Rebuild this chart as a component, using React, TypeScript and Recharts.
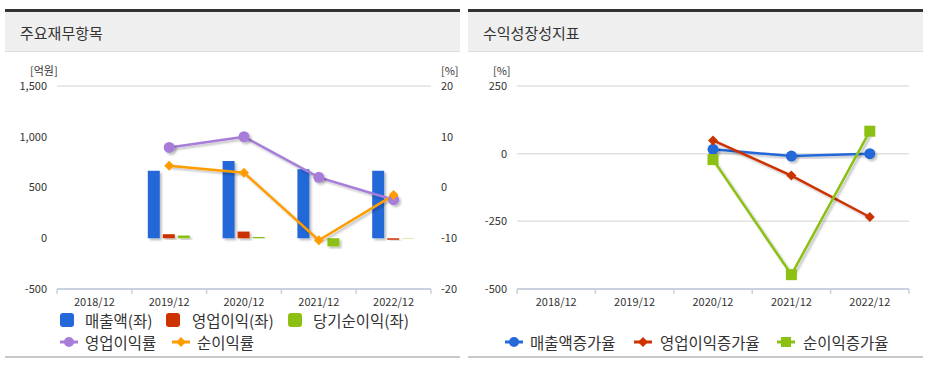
import React from "react";
import {
  ComposedChart,
  LineChart,
  Bar,
  Line,
  XAxis,
  YAxis,
  CartesianGrid,
} from "recharts";

const periods = ["2018/12", "2019/12", "2020/12", "2021/12", "2022/12"];

// 주요재무항목 (억원 / %)
const sales = [null, 666, 762, 680, 666];
const operatingProfit = [null, 40, 66, -2, -15];
const netIncome = [null, 27, 13, -80, -3];
const operatingMargin = [null, 7.9, 10.0, 2.0, -2.4];
const netMargin = [null, 4.3, 2.9, -10.4, -1.5];

// 수익성장성지표 (%)
const salesGrowth = [null, null, 16, -9, 0];
const opGrowth = [null, null, 49, -81, -234];
const netGrowth = [null, null, -22, -447, 83];

const leftTicks = [-500, 0, 500, 1000, 1500];
const rightTicks = [-20, -10, 0, 10, 20];
const growthTicks = [-500, -250, 0, 250];

const FONT = "'Noto Sans CJK KR', 'Noto Sans', sans-serif";
const TEXT = "#333";
const AXIS = "#c9d3e0";
const GRID = "#e2e2e2";

const C_BLUE = "#2468d9";
const C_RED = "#cc3300";
const C_GREEN = "#8cc012";
const C_PURPLE = "#a77dd9";
const C_ORANGE = "#ff9d00";

const finData = periods.map((p, i) => ({
  period: p,
  sales: sales[i],
  op: operatingProfit[i],
  net: netIncome[i],
  opm: operatingMargin[i],
  npm: netMargin[i],
}));

const growthData = periods.map((p, i) => ({
  period: p,
  sg: salesGrowth[i],
  og: opGrowth[i],
  ng: netGrowth[i],
}));

const fmt = (v: number) => v.toLocaleString("en-US");

const CategoryTick = (props: any) => {
  const { x, y, payload, index, visibleTicksCount } = props;
  const off = payload.offset || 0;
  const last = index === visibleTicksCount - 1;
  return (
    <g>
      <line x1={x - off} x2={x - off} y1={y - 8} y2={y - 3} stroke={AXIS} strokeWidth={1.5} />
      {last && <line x1={x + off} x2={x + off} y1={y - 8} y2={y - 3} stroke={AXIS} strokeWidth={1.5} />}
      <text x={x} y={y + 9} textAnchor="middle" fill={TEXT} fontSize={11} fontFamily={FONT}>
        {payload.value}
      </text>
    </g>
  );
};

const Diamond = (color: string, r: number) => (props: any) => {
  const { cx, cy, value, index } = props;
  if (value == null || cx == null || cy == null) return <g key={index} />;
  return (
    <polygon
      key={index}
      points={`${cx},${cy - r} ${cx + r},${cy} ${cx},${cy + r} ${cx - r},${cy}`}
      fill={color}
    />
  );
};

const Square = (color: string, s: number) => (props: any) => {
  const { cx, cy, value, index } = props;
  if (value == null || cx == null || cy == null) return <g key={index} />;
  return <rect key={index} x={cx - s / 2} y={cy - s / 2} width={s} height={s} fill={color} />;
};

const Shadow = () => (
  <defs>
    <filter id="shd" x="-30%" y="-30%" width="160%" height="160%">
      <feDropShadow dx="2" dy="2" stdDeviation="1" floodColor="#000" floodOpacity="0.25" />
    </filter>
  </defs>
);

const Panel = ({ left, title }: { left: number; title: string }) => (
  <>
    <div
      style={{
        position: "absolute",
        left,
        top: 9,
        width: 455,
        height: 39,
        borderTop: "3px solid #333",
        borderBottom: "1px solid #dcdcdc",
        background: "#efefef",
      }}
    >
      <div style={{ position: "absolute", left: 15, top: 10, fontSize: 15, color: TEXT, fontFamily: FONT }}>
        {title}
      </div>
    </div>
    <div style={{ position: "absolute", left, top: 356, width: 455, height: 2, background: "#c8c8c8" }} />
  </>
);

const label = (x: number, y: number, text: string) => (
  <div
    style={{
      position: "absolute",
      top: y,
      left: x,
      fontSize: 11,
      color: TEXT,
      fontFamily: FONT,
      lineHeight: "12px",
    }}
  >
    {text}
  </div>
);

const SquareIcon = ({ color }: { color: string }) => (
  <span
    style={{
      position: "absolute",
      left: 0,
      top: 3,
      width: 14,
      height: 14,
      borderRadius: 3,
      background: color,
    }}
  />
);

const LineIcon = ({ color, shape }: { color: string; shape: "circle" | "diamond" | "square" }) => (
  <svg width={18} height={12} style={{ position: "absolute", left: 0, top: 4 }}>
    <line x1={0} x2={18} y1={6} y2={6} stroke={color} strokeWidth={3} />
    {shape === "circle" && <circle cx={9} cy={6} r={5} fill={color} />}
    {shape === "diamond" && <polygon points="9,1 14,6 9,11 4,6" fill={color} />}
    {shape === "square" && <rect x={4} y={1} width={10} height={10} fill={color} />}
  </svg>
);

const LegendItem = ({
  x,
  cy,
  textX,
  text,
  icon,
}: {
  x: number;
  cy: number;
  textX: number;
  text: string;
  icon: React.ReactNode;
}) => (
  <div style={{ position: "absolute", left: x, top: cy - 10, height: 20, whiteSpace: "nowrap" }}>
    {icon}
    <span
      style={{
        position: "absolute",
        left: textX - x,
        top: 0,
        lineHeight: "20px",
        fontSize: 15.5,
        color: TEXT,
        fontFamily: FONT,
      }}
    >
      {text}
    </span>
  </div>
);

export default function App() {
  return (
    <div style={{ position: "absolute", left: 0, top: 0, width: 937, height: 367, background: "#fff", overflow: "hidden" }}>
      <Panel left={5} title="주요재무항목" />
      <Panel left={468} title="수익성장성지표" />

      {label(30, 64, "[억원]")}
      {label(441, 64, "[%]")}
      {label(493, 64, "[%]")}

      <div style={{ position: "absolute", left: 0, top: 60 }}>
        <ComposedChart
          width={470}
          height={260}
          data={finData}
          margin={{ top: 26, right: 7, bottom: 11, left: 7 }}
          barSize={12}
          barGap={3}
        >
          <Shadow />
          <CartesianGrid vertical={false} stroke={GRID} strokeWidth={1.5} />
          <XAxis
            dataKey="period"
            height={20}
            stroke={AXIS}
            strokeWidth={2}
            tickLine={false}
            tick={<CategoryTick />}
            interval={0}
          />
          <YAxis
            yAxisId="left"
            width={50}
            domain={[-500, 1500]}
            ticks={leftTicks}
            axisLine={false}
            tickLine={false}
            tickSize={0}
            tickMargin={10}
            tickFormatter={fmt}
            tick={{ fill: TEXT, fontSize: 11, fontFamily: FONT }}
          />
          <YAxis
            yAxisId="right"
            orientation="right"
            width={32}
            domain={[-20, 20]}
            ticks={rightTicks}
            axisLine={false}
            tickLine={false}
            tickSize={0}
            tickMargin={10}
            tick={{ fill: TEXT, fontSize: 11, fontFamily: FONT, textAnchor: "start" }}
          />
          <Bar yAxisId="left" dataKey="sales" fill={C_BLUE} filter="url(#shd)" isAnimationActive={false} />
          <Bar yAxisId="left" dataKey="op" fill={C_RED} filter="url(#shd)" isAnimationActive={false} />
          <Bar yAxisId="left" dataKey="net" fill={C_GREEN} filter="url(#shd)" isAnimationActive={false} />
          <Line
            yAxisId="right"
            dataKey="opm"
            stroke={C_PURPLE}
            strokeWidth={2.5}
            dot={{ r: 5.5, fill: C_PURPLE, stroke: C_PURPLE, strokeWidth: 0 }}
            filter="url(#shd)"
            isAnimationActive={false}
          />
          <Line
            yAxisId="right"
            dataKey="npm"
            stroke={C_ORANGE}
            strokeWidth={2.5}
            dot={Diamond(C_ORANGE, 5)}
            filter="url(#shd)"
            isAnimationActive={false}
          />
        </ComposedChart>
      </div>

      <div style={{ position: "absolute", left: 468, top: 60 }}>
        <LineChart
          width={460}
          height={260}
          data={growthData}
          margin={{ top: 26, right: 19, bottom: 11, left: 9 }}
        >
          <Shadow />
          <CartesianGrid vertical={false} stroke={GRID} strokeWidth={1.5} />
          <XAxis
            dataKey="period"
            height={20}
            stroke={AXIS}
            strokeWidth={2}
            tickLine={false}
            tick={<CategoryTick />}
            interval={0}
            scale="band"
          />
          <YAxis
            width={40}
            domain={[-500, 250]}
            ticks={growthTicks}
            axisLine={false}
            tickLine={false}
            tickSize={0}
            tickMargin={10}
            tick={{ fill: TEXT, fontSize: 11, fontFamily: FONT }}
          />
          <Line
            dataKey="sg"
            stroke={C_BLUE}
            strokeWidth={2.5}
            dot={{ r: 5.5, fill: C_BLUE, stroke: C_BLUE, strokeWidth: 0 }}
            filter="url(#shd)"
            isAnimationActive={false}
          />
          <Line
            dataKey="og"
            stroke={C_RED}
            strokeWidth={2.5}
            dot={Diamond(C_RED, 5)}
            filter="url(#shd)"
            isAnimationActive={false}
          />
          <Line
            dataKey="ng"
            stroke={C_GREEN}
            strokeWidth={2.5}
            dot={Square(C_GREEN, 11)}
            filter="url(#shd)"
            isAnimationActive={false}
          />
        </LineChart>
      </div>

      <LegendItem x={60} cy={320} textX={85} text="매출액(좌)" icon={<SquareIcon color={C_BLUE} />} />
      <LegendItem x={166} cy={320} textX={192} text="영업이익(좌)" icon={<SquareIcon color={C_RED} />} />
      <LegendItem x={288} cy={320} textX={313} text="당기순이익(좌)" icon={<SquareIcon color={C_GREEN} />} />
      <LegendItem x={60} cy={342} textX={85} text="영업이익률" icon={<LineIcon color={C_PURPLE} shape="circle" />} />
      <LegendItem x={172} cy={342} textX={197} text="순이익률" icon={<LineIcon color={C_ORANGE} shape="diamond" />} />

      <LegendItem x={505} cy={342} textX={530} text="매출액증가율" icon={<LineIcon color={C_BLUE} shape="circle" />} />
      <LegendItem x={634} cy={342} textX={660} text="영업이익증가율" icon={<LineIcon color={C_RED} shape="diamond" />} />
      <LegendItem x={777} cy={342} textX={803} text="순이익증가율" icon={<LineIcon color={C_GREEN} shape="square" />} />
    </div>
  );
}
